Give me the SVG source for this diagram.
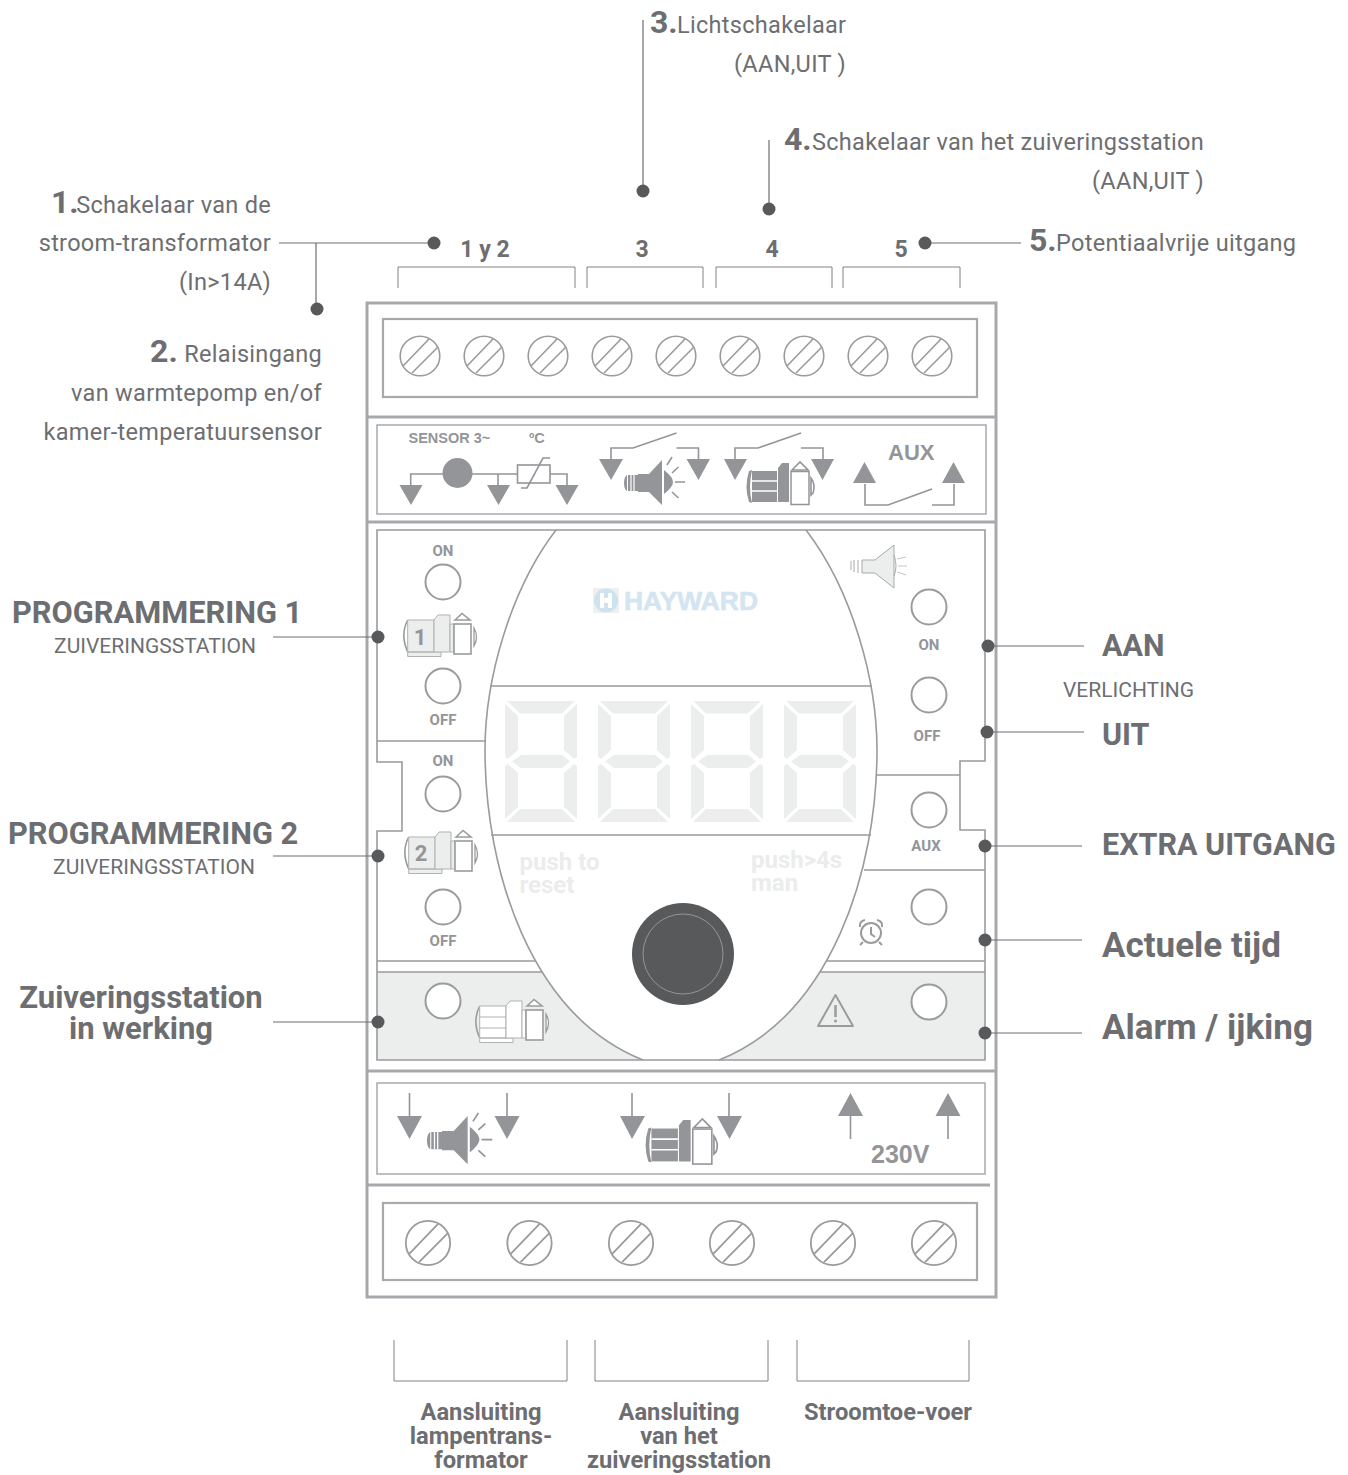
<svg xmlns="http://www.w3.org/2000/svg" width="1348" height="1475" viewBox="0 0 1348 1475">
<style>
text{font-family:Roboto,"Liberation Sans",sans-serif;fill:#6d6e71}
.m{text-anchor:middle}
.e{text-anchor:end}
.num{font-size:32px;font-weight:700}
.lab{font-size:23.5px;letter-spacing:.3px}
.head{font-size:30.8px;font-weight:700}
.sub{font-size:21px}
.big{font-size:35px;font-weight:700}
.mid{font-size:30.5px;font-weight:700}
.term{font-size:23px;font-weight:700}
.foot{font-size:23.7px;font-weight:700}
.sw{font-size:15px;font-weight:700;fill:#939598}
.sym{font-family:"Liberation Sans",Arial,sans-serif;font-weight:700;fill:#939598}
.faint{font-size:24px;font-weight:700;fill:#ebecec}
.frame{fill:none;stroke:#a7a9ac;stroke-width:3}
.fr2{fill:none;stroke:#a7a9ac;stroke-width:2.2}
.thin{fill:none;stroke:#a7a9ac;stroke-width:1.5}
.ln{fill:none;stroke:#9a9b9d;stroke-width:1.6}
.dk{fill:#939598}
.dkl{fill:none;stroke:#939598;stroke-width:1.6}
.btn{fill:#fff;stroke:#9a9b9d;stroke-width:2}
.seg{fill:#eceeee}
.con{fill:none;stroke:#6d6e71;stroke-width:1.2}
.br{fill:none;stroke:#808285;stroke-width:1}
.dot{fill:#58595b}
</style>
<defs>
<g id="screw" class="ln"><circle r="19.8"/><path d="M-17 10L9-17M-8 17L18-9"/></g>
<g id="digit" class="seg">
<path d="M2 0H70L57 12.5H15Z"/><path d="M0 3L13 15V49L3 58L0 56Z"/><path d="M72 3L59 15V49L69 58L72 56Z"/>
<path d="M7 60.5L16 54H57L65 60.5L57 67H16Z"/>
<path d="M0 118L13 106V72L3 63L0 65Z"/><path d="M72 118L59 106V72L69 63L72 65Z"/><path d="M2 121H70L57 108H15Z"/>
</g>
<g id="spk">
<path class="dk" d="M4 16H14V32H4ZM0 24Q0 18 3 16V32Q0 30 0 24Z"/>
<path class="dk" d="M14 15H25L38 1V46L25 33H14Z"/>
<path d="M7 16V32M10 16V32" stroke="#fff" stroke-width="1.2"/>
<path class="dk" d="M40 11Q49 18 49 23Q49 28 40 35Z"/>
<path class="dkl" d="M43 6L48-2M48 14L54.500 8M51 23H61M48 33L54.500 39" stroke-width="2"/>
</g>
<g id="pumpdark">
<path class="dk" d="M4 9Q-1 25 4 40L7 41Q3 25 7 8Z"/>
<path class="dk" d="M7 9H32V40H7Z"/>
<path d="M7 19H32M7 29H32" stroke="#fff" stroke-width="1.5"/>
<path class="dk" d="M33 6L37 1H44V40H33Z"/>
<rect x="46" y="9.500" width="18" height="33" fill="#fff" stroke="#939598" stroke-width="1.5"/>
<path class="dkl" d="M47 8L55 0L63 8Z"/>
<path class="dkl" d="M66 16Q71 23 68 31L66 33Z"/>
</g>
<g id="pumpl">
<path class="ln" d="M5.700 7Q-2 22 5.700 39" stroke-width="1"/>
<path d="M5.700 7H32V39H5.700ZM5.700 39H39V43.500H5.700Z" stroke="#b0b1b3" stroke-width="1"/>
<path d="M32 7L36 2H48V39H32Z" stroke="#b0b1b3" stroke-width="1"/>
<path d="M48 11H52V39H48Z" stroke="#b0b1b3" stroke-width="1"/>
<rect x="52" y="11" width="17" height="30" fill="#fff" stroke="#9a9b9d" stroke-width="1.6"/>
<path d="M53 7L60 .5L68 7Z" fill="#fff" stroke="#9a9b9d" stroke-width="1.6"/>
<path d="M72 15Q77 24 72 33Z" fill="#fff" stroke="#9a9b9d" stroke-width="1.3"/>
</g>
</defs>

<g id="panel">
<rect class="frame" x="367" y="303" width="629" height="994"/>
<path class="frame" d="M367 417H996M367 522H996M367 1071H996M367 1185H990"/>
</g>

<g id="top-terminals">
<rect class="fr2" x="383" y="319" width="594" height="78"/>
<use href="#screw" x="420" y="356"/><use href="#screw" x="484" y="356"/><use href="#screw" x="548" y="356"/>
<use href="#screw" x="612" y="356"/><use href="#screw" x="676" y="356"/><use href="#screw" x="740" y="356"/>
<use href="#screw" x="804" y="356"/><use href="#screw" x="868" y="356"/><use href="#screw" x="932" y="356"/>
</g>

<g id="top-symbols">
<rect class="thin" x="377" y="425" width="609" height="89"/>
<text class="sym" x="408.500" y="443" font-size="14.500">SENSOR 3~</text>
<text class="sym" x="529" y="443" font-size="14.500">ºC</text>
<path class="dkl" d="M410.700 485V474H517.500M498 474V485M550 474H567V485M521 488H527L543 458H550"/>
<rect class="dkl" x="517.500" y="465" width="32.500" height="18"/>
<circle class="dk" cx="457.500" cy="473" r="15"/>
<path class="dk" d="M399.500 485H422.500L411 505ZM487 485H510L498.500 505ZM555.500 485H578.500L567 505Z"/>
<path class="dkl" d="M611 459V448H633L676.500 433M676.500 448H698.500V459"/>
<path class="dk" d="M599 459H623L611 480ZM686.500 459H710L698.500 480Z"/>
<use href="#spk" x="624" y="459"/>
<path class="dkl" d="M735 459V448H758L801 433M801 448H823V459"/>
<path class="dk" d="M724 459H747L735 480ZM811 459H834L822.500 480Z"/>
<use href="#pumpdark" x="745" y="462"/>
<text class="sym" x="888" y="460" font-size="22">AUX</text>
<path class="dkl" d="M865 484V505H888L932 489M932 505H954V484"/>
<path class="dk" d="M853 483H876L864.500 462ZM942 483H965L953.500 462Z"/>
</g>

<g id="display">
<path d="M377 972H542C565 1012 600 1040 643 1060H377ZM985 972H820C797 1012 762 1040 719 1060H985Z" fill="#eceeee"/>
<path class="ln" d="M377 530H985V761H960V830H985V1060H377V831H402V762H377Z"/>
<path class="ln" d="M556 530C510 590 485 680 485 750C485 870 530 1015 643 1060"/>
<path class="ln" d="M806 530C852 590 877 680 877 750C877 870 832 1015 719 1060"/>
<path class="ln" d="M377 741H486M490 686H872M491 835H871M877 775H960M864 870H985M377 961H535M377 972H542M827 961H985M820 972H985"/>
<g id="logo">
<rect x="593" y="588" width="26" height="25" fill="#eef0f0"/>
<circle cx="606" cy="600.500" r="12" fill="#cfe2ef"/>
<path d="M600 593H604V598H608V593H612V608H608V603H604V608H600Z" fill="#fff"/>
<text x="624" y="610" font-size="26" font-weight="700" textLength="134" lengthAdjust="spacingAndGlyphs" style="font-family:'Liberation Sans',sans-serif;fill:#d3e5f1;stroke:#d3e5f1;stroke-width:.6">HAYWARD</text>
</g>
<use href="#digit" x="505" y="701"/><use href="#digit" x="598" y="701"/><use href="#digit" x="691" y="701"/><use href="#digit" x="784" y="701"/>
<text class="faint" x="519.500" y="870">push to</text>
<text class="faint" x="519.500" y="893">reset</text>
<text class="faint" x="751" y="868">push&gt;4s</text>
<text class="faint" x="751" y="891">man</text>
<circle cx="683" cy="954" r="51" fill="#58595b"/>
<circle cx="683" cy="954" r="40" fill="none" stroke="#939598" stroke-width="1"/>
</g>

<g id="program-1">
<text class="sw m" x="443" y="556">ON</text>
<circle class="btn" cx="443" cy="582" r="17.500"/>
<use href="#pumpl" x="402" y="613" fill="#eceeee"/>
<text class="m" x="420" y="645" font-size="22" font-weight="700" style="fill:#939598">1</text>
<circle class="btn" cx="443" cy="686" r="17.500"/>
<text class="sw m" x="443" y="725">OFF</text>
</g>
<g id="program-2">
<text class="sw m" x="443" y="766">ON</text>
<circle class="btn" cx="443" cy="794" r="17.500"/>
<use href="#pumpl" x="403" y="830" fill="#eceeee"/>
<text class="m" x="421" y="861" font-size="22" font-weight="700" style="fill:#939598">2</text>
<circle class="btn" cx="443" cy="907" r="17.500"/>
<text class="sw m" x="443" y="946">OFF</text>
</g>
<g id="pump-running">
<circle class="btn" cx="443" cy="1001" r="17.500"/>
<use href="#pumpl" x="474" y="999" fill="#fff"/>
<path d="M479.700 1017H506M479.700 1028H506" stroke="#b0b1b3" stroke-width="1"/>
</g>
<g id="lights">
<path d="M862 560H875L894 545V588L875 573H862Z" fill="#eceeee" stroke="#a7a9ac" stroke-width="1"/>
<path d="M851 561V570M854 560V572M858 560V573" stroke="#a7a9ac" stroke-width="1"/>
<path d="M894 555Q898 566 894 576" fill="none" stroke="#a7a9ac" stroke-width="1"/>
<path d="M897 559L906 557M898 566H907M897 572L906 575" stroke="#c4c5c7" stroke-width="1"/>
<circle class="btn" cx="929" cy="607" r="17.500"/>
<text class="sw m" x="929" y="650">ON</text>
<circle class="btn" cx="929" cy="695" r="17.500"/>
<text class="sw m" x="927" y="741">OFF</text>
</g>
<g id="aux">
<circle class="btn" cx="929" cy="810" r="17.500"/>
<text class="sw m" x="926" y="851">AUX</text>
</g>
<g id="clock">
<circle class="btn" cx="929" cy="907" r="17.500"/>
<g fill="none" stroke="#9a9b9d" stroke-width="2">
<circle cx="871" cy="933" r="10"/>
<path d="M871 927V934L875 937M860 927Q859 921 865 920M882 927Q883 921 877 920M863 942L860 945M879 942L882 945"/>
</g>
</g>
<g id="alarm">
<circle class="btn" cx="929" cy="1002" r="17.500"/>
<path d="M835.500 995L853 1026H818Z" fill="none" stroke="#9a9b9d" stroke-width="2" stroke-linejoin="round"/>
<path d="M835.500 1005V1017" stroke="#9a9b9d" stroke-width="2.500"/>
<circle cx="835.500" cy="1021" r="1.500" fill="#9a9b9d"/>
</g>

<g id="bottom-symbols">
<rect class="thin" x="377" y="1083" width="608" height="91"/>
<path class="dkl" d="M409.500 1093V1117M507 1093V1117M632 1093V1117M729 1093V1117M850.500 1115V1139M948 1115V1139"/>
<path class="dk" d="M397 1116H422L409.500 1139ZM494.500 1116H519.500L507 1139ZM620 1116H645L632 1139ZM717 1116H742L729.500 1139ZM838 1116H863L850.500 1093ZM935.500 1116H960.500L948 1093Z"/>
<use href="#spk" transform="translate(427 1115) scale(1.07)"/>
<use href="#pumpdark" transform="translate(644 1119) scale(1.06)"/>
<text class="sym" x="871" y="1163" font-size="25">230V</text>
</g>

<g id="bottom-terminals">
<rect class="fr2" x="383" y="1203" width="594" height="77"/>
<use href="#screw" transform="translate(428 1243) scale(1.12)"/><use href="#screw" transform="translate(529.500 1243) scale(1.12)"/>
<use href="#screw" transform="translate(631 1243) scale(1.12)"/><use href="#screw" transform="translate(732 1243) scale(1.12)"/>
<use href="#screw" transform="translate(833 1243) scale(1.12)"/><use href="#screw" transform="translate(934 1243) scale(1.12)"/>
</g>

<g id="connectors">
<path class="con" d="M279 243H434M316 243V309M643 20V191M769 140V209M925 243H1021M273 637H378M273 856H378M273 1022H378M988 646H1084M987 732H1084M985 846H1082M985 940H1082M985 1033H1082"/>
<path class="br" d="M398 288V267H575V288M587 288V267H703V288M716 288V267H832V288M843 288V267H960V288"/>
<path class="br" d="M394 1340V1381H567V1340M595 1340V1381H768V1340M797 1340V1381H969V1340"/>
<circle class="dot" cx="434" cy="243" r="6.500"/><circle class="dot" cx="317" cy="309" r="6.500"/>
<circle class="dot" cx="643" cy="191" r="6.500"/><circle class="dot" cx="769" cy="209" r="6.500"/>
<circle class="dot" cx="925" cy="243" r="6.500"/><circle class="dot" cx="378" cy="637" r="6.500"/>
<circle class="dot" cx="378" cy="856" r="6.500"/><circle class="dot" cx="378" cy="1022" r="6.500"/>
<circle class="dot" cx="988" cy="646" r="6.500"/><circle class="dot" cx="987" cy="732" r="6.500"/>
<circle class="dot" cx="985" cy="846" r="6.500"/><circle class="dot" cx="985" cy="940" r="6.500"/>
<circle class="dot" cx="985" cy="1033" r="6.500"/>
</g>

<g id="labels">
<text class="num" x="51" y="213">1.</text><text class="lab e" x="271" y="213">Schakelaar van de</text>
<text class="lab e" x="271" y="251">stroom-transformator</text>
<text class="lab e" x="271" y="290">(In&gt;14A)</text>
<text class="lab e" x="322" y="362"><tspan class="num">2.</tspan> Relaisingang</text>
<text class="lab e" x="322" y="401">van warmtepomp en/of</text>
<text class="lab e" x="322" y="440">kamer-temperatuursensor</text>
<text class="num" x="650" y="33">3.</text><text class="lab" x="677" y="33">Lichtschakelaar</text>
<text class="lab e" x="846" y="72">(AAN,UIT )</text>
<text class="num" x="784" y="150">4.</text><text class="lab" x="812" y="150">Schakelaar van het zuiveringsstation</text>
<text class="lab e" x="1204" y="189">(AAN,UIT )</text>
<text class="num" x="1029" y="251">5.</text><text class="lab" x="1056" y="251">Potentiaalvrije uitgang</text>
<text class="term m" x="485" y="257">1 y 2</text><text class="term m" x="642" y="257">3</text><text class="term m" x="772" y="257">4</text><text class="term m" x="901" y="257">5</text>
<text class="head" x="12" y="623">PROGRAMMERING 1</text><text class="sub m" x="155" y="653">ZUIVERINGSSTATION</text>
<text class="head" x="8" y="844">PROGRAMMERING 2</text><text class="sub m" x="154" y="874">ZUIVERINGSSTATION</text>
<text class="m" style="font-size:31px;font-weight:700" x="141" y="1008">Zuiveringsstation</text><text class="m" style="font-size:31px;font-weight:700" x="141" y="1039">in werking</text>
<text class="mid" x="1102" y="656">AAN</text><text class="sub" x="1063" y="697">VERLICHTING</text>
<text class="mid" x="1102" y="745">UIT</text><text class="mid" x="1102" y="855">EXTRA UITGANG</text>
<text class="big" x="1102" y="957">Actuele tijd</text><text class="big" x="1102" y="1039">Alarm / ijking</text>
<text class="foot m" x="481" y="1420">Aansluiting</text><text class="foot m" x="481" y="1444">lampentrans-</text><text class="foot m" x="481" y="1468">formator</text>
<text class="foot m" x="679" y="1420">Aansluiting</text><text class="foot m" x="679" y="1444">van het</text><text class="foot m" x="679" y="1468">zuiveringsstation</text>
<text class="foot m" x="888" y="1420">Stroomtoe-voer</text>
</g>
</svg>
